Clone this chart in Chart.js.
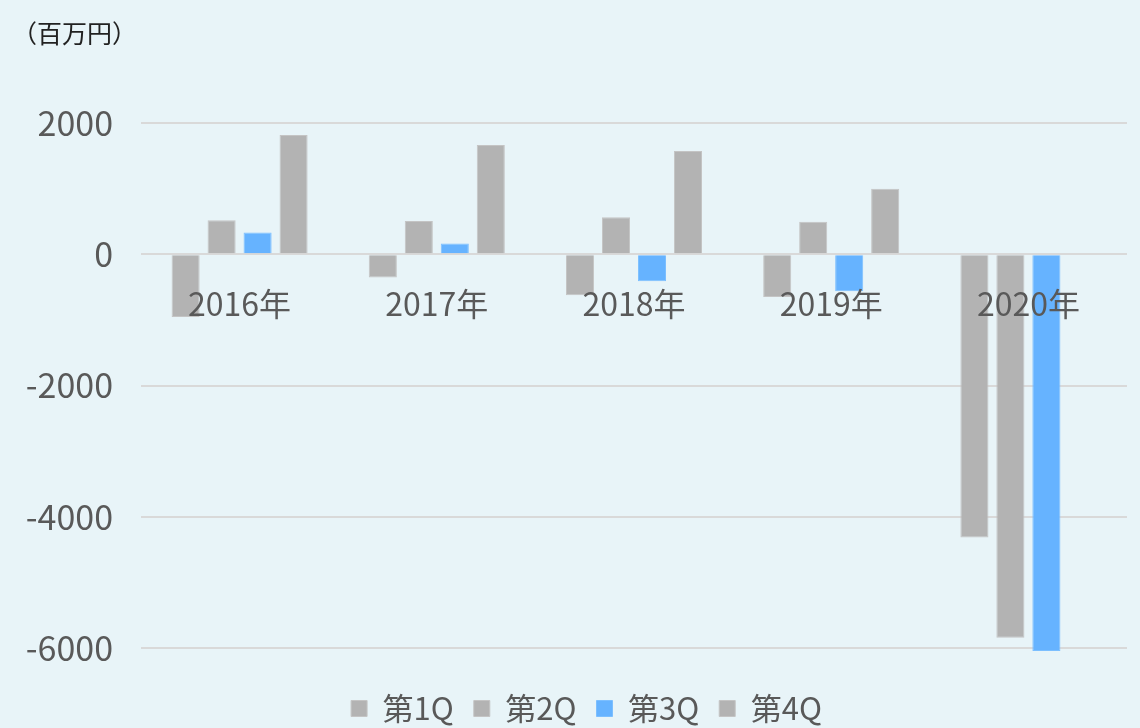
<!DOCTYPE html>
<html lang="ja">
<head>
<meta charset="UTF-8">
<title>四半期別損益</title>
<script src="https://cdn.jsdelivr.net/npm/chart.js"></script>
<style>
  html, body { margin: 0; padding: 0; background: #e8f4f8; }
  #wrap { width: 1140px; height: 728px; }
</style>
</head>
<body>
<div id="wrap"><canvas id="chart" width="1140" height="728"></canvas></div>
<script>
// データ（百万円）
const years = ['2016年', '2017年', '2018年', '2019年', '2020年'];
const q1 = [-957, -356, -626, -651, -4316];
const q2 = [519, 508, 565, 494, -5842];
const q3 = [331, 163, -412, -565, -6046];
const q4 = [1817, 1664, 1573, 997, null];
const quarterNames = ['第1Q', '第2Q', '第3Q', '第4Q'];
const yTicks = [2000, 0, -2000, -4000, -6000];

const GRAY = '#b3b3b3';
const BLUE = '#66b3ff';
const FONT = '"Noto Sans CJK JP", "Noto Sans", sans-serif';

// 単位ラベル
const unitLabel = {
    id: 'unitLabel',
    afterDraw(chart) {
        const ctx = chart.ctx;
        ctx.save();
        ctx.font = '25px ' + FONT;
        ctx.fillStyle = '#222222';
        ctx.textBaseline = 'middle';
        ctx.fillText('（百万円）', 12, 33);
        ctx.restore();
    }
};

// 凡例の位置を微調整
const legendShift = {
    id: 'legendShift',
    afterLayout(chart) {
        const lg = chart.legend;
        lg.top += 25;
        lg.bottom += 25;
        lg.left += 23;
        lg.right += 23;
    }
};

function ds(label, data, color) {
    return {
        label: label,
        data: data,
        backgroundColor: color,
        borderColor: color === BLUE ? '#7cbfff' : '#c4c4c4',
        borderWidth: 1,
        categoryPercentage: 0.73,
        barPercentage: 0.78,
        clip: false
    };
}

new Chart(document.getElementById('chart'), {
    type: 'bar',
    data: {
        labels: years,
        datasets: [
            ds(quarterNames[0], q1, GRAY),
            ds(quarterNames[1], q2, GRAY),
            ds(quarterNames[2], q3, BLUE),
            ds(quarterNames[3], q4, GRAY)
        ]
    },
    options: {
        responsive: false,
        animation: false,
        layout: { padding: { top: 123, left: 0, right: 13, bottom: 19 } },
        plugins: {
            legend: {
                position: 'bottom',
                labels: {
                    font: { family: FONT, size: 31 },
                    color: '#595959',
                    boxWidth: 16,
                    boxHeight: 16,
                    padding: 20
                }
            },
            tooltip: { enabled: false }
        },
        scales: {
            x: {
                position: { y: 0 },
                grid: { display: false },
                border: { display: false },
                ticks: {
                    z: 1,
                    font: { family: FONT, size: 32 },
                    color: '#595959',
                    padding: 22
                }
            },
            y: {
                min: -6000,
                max: 2000,
                afterBuildTicks(scale) {
                    scale.ticks = yTicks.map(v => ({ value: v }));
                },
                afterFit(scale) {
                    scale.width = 141;
                },
                grid: { color: '#d9d9d9', lineWidth: 2, drawTicks: false },
                border: { display: false },
                ticks: {
                    font: { family: FONT, size: 34 },
                    color: '#595959',
                    padding: 28,
                    callback: v => String(v)
                }
            }
        }
    },
    plugins: [unitLabel, legendShift]
});
</script>
</body>
</html>
